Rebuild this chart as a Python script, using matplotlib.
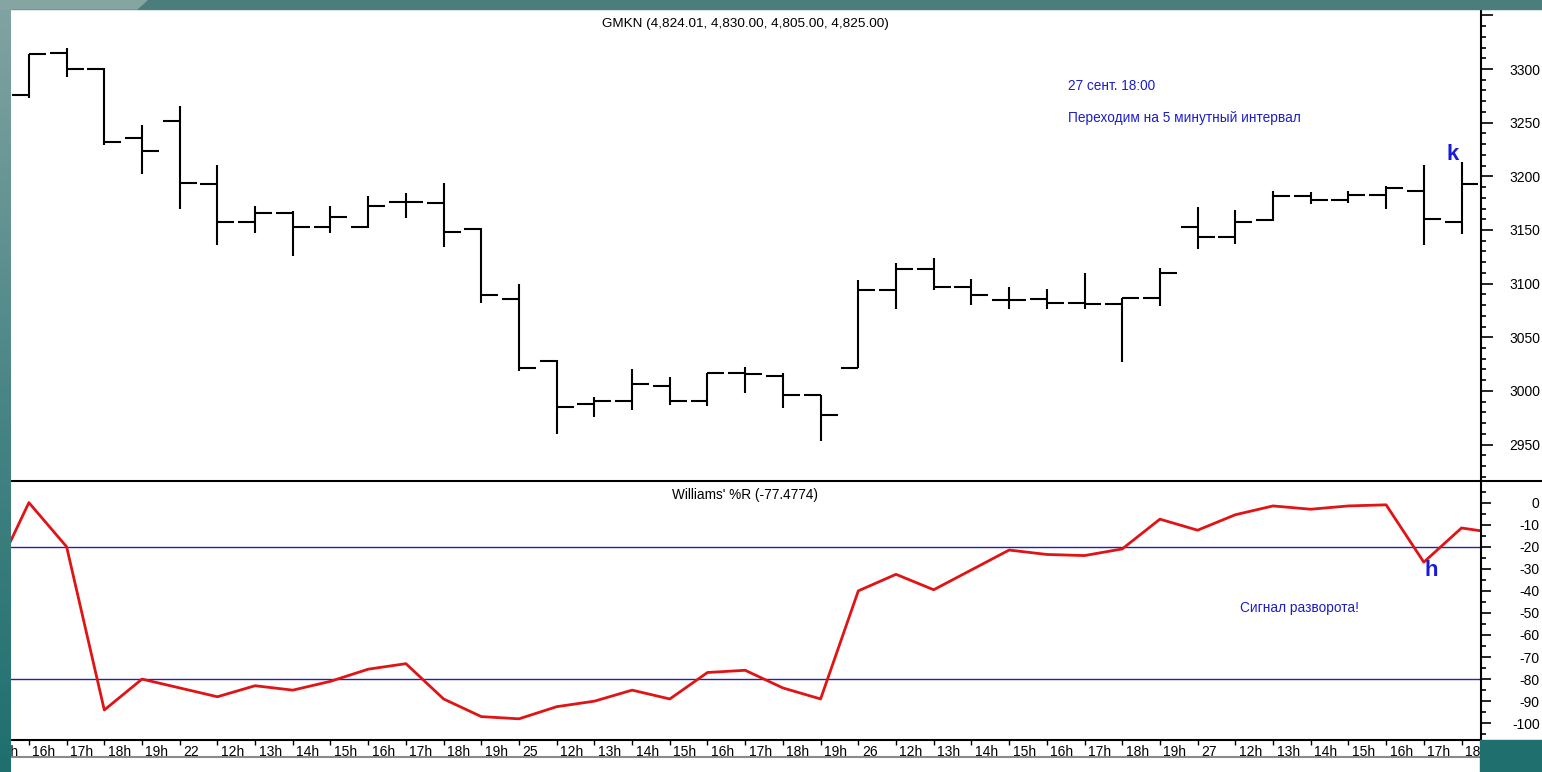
import numpy as np
import matplotlib.pyplot as plt
import matplotlib.transforms as mtransforms
from matplotlib.colors import LinearSegmentedColormap
from matplotlib.lines import Line2D
from matplotlib.patches import Rectangle, Polygon
from matplotlib.ticker import MultipleLocator

plt.rcParams['font.family'] = ['Liberation Sans', 'DejaVu Sans']
plt.rcParams['axes.unicode_minus'] = False

# ----------------------------
# data
# ----------------------------
# hour slots, index -1 .. 38 (slot -1 is cut off by the frame)
slot_labels = ['15h', '16h', '17h', '18h', '19h', '22', '12h', '13h', '14h', '15h',
               '16h', '17h', '18h', '19h', '25', '12h', '13h', '14h', '15h', '16h',
               '17h', '18h', '19h', '26', '12h', '13h', '14h', '15h', '16h', '17h',
               '18h', '19h', '27', '12h', '13h', '14h', '15h', '16h', '17h', '18h']
day_labels = ['22', '25', '26', '27']

# GMKN hourly OHLC, slots 0 .. 38
opens = [3276, 3315, 3300, 3236, 3252, 3193, 3157, 3166, 3153, 3153, 3176, 3175, 3151,
         3086, 3028, 2988, 2991, 3005, 2991, 3017, 3014, 2996, 3021, 3094, 3114, 3097,
         3085, 3086, 3082, 3081, 3087, 3153, 3143, 3159, 3182, 3178, 3183, 3186, 3157]
highs = [3314, 3320, 3301, 3248, 3266, 3211, 3172, 3168, 3172, 3182, 3184, 3194, 3152,
         3100, 3029, 2994, 3020, 3013, 3017, 3022, 3017, 2996, 3103, 3119, 3124, 3104,
         3097, 3095, 3110, 3087, 3115, 3171, 3169, 3186, 3185, 3186, 3191, 3211, 3213]
lows = [3273, 3293, 3229, 3202, 3170, 3136, 3147, 3126, 3147, 3152, 3161, 3134, 3082,
        3019, 2960, 2976, 2982, 2987, 2986, 2998, 2984, 2953, 3021, 3076, 3094, 3080,
        3076, 3076, 3076, 3027, 3079, 3132, 3137, 3158, 3174, 3175, 3170, 3136, 3146]
closes = [3314, 3300, 3232, 3224, 3194, 3157, 3166, 3153, 3162, 3172, 3176, 3148, 3089,
          3021, 2985, 2991, 3006, 2991, 3017, 3016, 2996, 2978, 3094, 3114, 3097, 3089,
          3085, 3082, 3081, 3087, 3110, 3143, 3157, 3182, 3178, 3183, 3189, 3160, 3193]

# Williams' %R, slots -1 .. 39
wr_values = [-36, 0, -20, -94, -80, -84, -88, -83, -85, -81, -75.5, -73, -89, -97, -98,
             -92.5, -90, -85, -89, -77, -76, -84, -89, -40, -32.5, -39.5, -30.5, -21.5,
             -23.5, -24, -21, -7.5, -12.5, -5.5, -1.5, -3, -1.5, -1, -27, -11.5, -14]
wr_levels = [-20, -80]

price_ticks = [2950, 3000, 3050, 3100, 3150, 3200, 3250, 3300, 3350]
wr_ticks = [0, -10, -20, -30, -40, -50, -60, -70, -80, -90, -100]

# ----------------------------
# layout helpers (pixels -> figure fraction)
# ----------------------------
W, H = 1542, 772
def fx(x):
    return x / W
def fy(y):
    return 1 - y / H

x_idx = np.arange(len(opens))
slot_idx = np.arange(-1, len(slot_labels) - 1)
wr_idx = np.arange(-1, len(wr_values) - 1)
day_idx = [i for i, s in zip(slot_idx, slot_labels) if s in day_labels]

px0, step = 28.9, 37.7          # pixel of slot 0, pixels per slot
xmin, xmax = -1.2, 38.52
left_px = px0 + step * xmin
right_px = px0 + step * xmax

fig = plt.figure(figsize=(W / 100, H / 100), dpi=100, facecolor='white')

ax1 = fig.add_axes([fx(left_px), fy(480), fx(right_px - left_px), (480 - 10) / H])
ax2 = fig.add_axes([fx(left_px), fy(740), fx(right_px - left_px), (740 - 481) / H])

# ----------------------------
# price bars
# ----------------------------
tick_w = 0.45
ax1.vlines(x_idx, lows, highs, color='black', lw=1.5)
ax1.hlines(opens, x_idx - tick_w, x_idx, color='black', lw=1.5)
ax1.hlines(closes, x_idx, x_idx + tick_w, color='black', lw=1.5)
ax1.set_xlim(xmin, xmax)
ax1.set_ylim(2917, 3355)
ax1.set_xticks([])
ax1.yaxis.tick_right()
ax1.set_yticks(price_ticks, labels=[str(t) for t in price_ticks[:-1]] + [''])
ax1.yaxis.set_minor_locator(MultipleLocator(10))
ax1.tick_params(axis='y', which='major', length=8.6, width=1.2, pad=34, labelsize=10)
ax1.tick_params(axis='y', which='minor', length=3.6, width=1.2)
plt.setp(ax1.get_yticklabels(), ha='right')
for s in ['left', 'top', 'bottom']:
    ax1.spines[s].set_visible(False)
ax1.spines['right'].set_linewidth(1.5)

# ----------------------------
# Williams' %R
# ----------------------------
for lvl in wr_levels:
    ax2.axhline(lvl, color='#2222b0', lw=1)
ax2.plot(wr_idx, wr_values, color='#e01414', lw=2)
ax2.set_xlim(xmin, xmax)
ax2.set_ylim(-107.6, 9.8)
ax2.yaxis.tick_right()
ax2.set_yticks(wr_ticks, labels=[str(t) for t in wr_ticks])
ax2.yaxis.set_minor_locator(MultipleLocator(5))
ax2.tick_params(axis='y', which='major', length=7.2, width=1.2, pad=35, labelsize=10)
ax2.tick_params(axis='y', which='minor', length=3.6, width=1.2)
plt.setp(ax2.get_yticklabels(), ha='right')

ax2.set_xticks(slot_idx, labels=slot_labels)
ax2.set_xticks(day_idx, minor=True)
ax2.tick_params(axis='x', which='major', length=3.6, width=1, pad=0, labelsize=10)
ax2.tick_params(axis='x', which='minor', length=11.5, width=1)
offset = mtransforms.ScaledTranslation(0.035, 0, fig.dpi_scale_trans)
for lbl in ax2.get_xticklabels():
    lbl.set_horizontalalignment('left')
    lbl.set_transform(lbl.get_transform() + offset)
for s in ['left', 'top']:
    ax2.spines[s].set_visible(False)
for s in ['right', 'bottom']:
    ax2.spines[s].set_linewidth(1.5)

# ----------------------------
# texts
# ----------------------------
fig.text(fx(745), fy(24), 'GMKN (4,824.01, 4,830.00, 4,805.00, 4,825.00)',
         ha='center', va='center', fontsize=9.7)
fig.text(fx(745), fy(495), "Williams' %R (-77.4774)", ha='center', va='center', fontsize=9.8)
blue = '#1c1cc8'
fig.text(fx(1068), fy(86), '27 сент. 18:00', ha='left', va='center', fontsize=9.8, color=blue)
fig.text(fx(1068), fy(118), 'Переходим на 5 минутный интервал', ha='left', va='center',
         fontsize=9.8, color=blue)
fig.text(fx(1240), fy(608), 'Сигнал разворота!', ha='left', va='center', fontsize=9.8,
         color=blue)
fig.text(fx(1453), fy(155), 'k', ha='center', va='center', fontsize=16, fontweight='bold',
         color='#1a1ad8')
fig.text(fx(1431), fy(571), 'h', ha='center', va='center', fontsize=16, fontweight='bold',
         color='#1a1ad8')

# ----------------------------
# slide frame
# ----------------------------
fig.add_artist(Line2D([fx(11), 1], [fy(480.5), fy(480.5)], color='black', lw=1.5))
fig.add_artist(Line2D([fx(11), fx(1480)], [fy(757), fy(757)], color='#8a8a8a', lw=1.5))
fig.add_artist(Rectangle((0, fy(9)), 1, 9 / H, transform=fig.transFigure,
                         color='#4b7d7d', zorder=20))
fig.add_artist(Polygon([(0, fy(0)), (fx(147), fy(0)), (fx(137), fy(9)), (0, fy(9))],
                       closed=True, transform=fig.transFigure, color='#85a5a3', zorder=21))
fig.add_artist(Rectangle((fx(1480), 0), 1 - fx(1480), fy(740), transform=fig.transFigure,
                         color='#1f6f6f', zorder=20))
frame = fig.add_axes([0, 0, fx(11), 1], zorder=20)
cmap = LinearSegmentedColormap.from_list('frame', ['#1f6f6f', '#4b8686', '#82a4a2'])
frame.imshow(np.linspace(0, 1, 256)[:, None], cmap=cmap, aspect='auto', origin='lower',
             extent=[0, 1, 0, 1])
frame.axis('off')

fig.savefig('out.png', dpi=100, facecolor='white')
